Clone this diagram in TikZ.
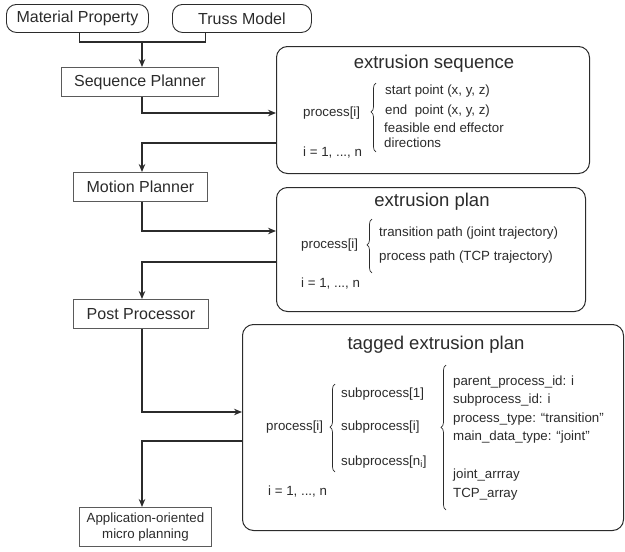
\documentclass[tikz,border=0pt]{standalone}
\usepackage{fontspec}
\setmainfont{Liberation Sans}
\usetikzlibrary{arrows.meta,decorations.pathreplacing,positioning}

\definecolor{inkgray}{HTML}{2B2B2B}
\definecolor{boxgray}{HTML}{5A5A5A}

\tikzset{
  inputbox/.style={draw=inkgray, line width=0.9pt, rounded corners=10pt, inner sep=0pt,
    anchor=north west, font=\fontsize{16}{18}\selectfont, text=inkgray},
  stagebox/.style={draw=boxgray, line width=0.9pt, inner sep=0pt, anchor=north west,
    font=\fontsize{16}{18}\selectfont, text=inkgray},
  databox/.style={draw=inkgray, line width=1pt, rounded corners=11pt, inner sep=0pt, anchor=north west},
  title/.style={font=\fontsize{18.5}{20}\selectfont, text=inkgray, inner sep=0pt},
  txt/.style={font=\fontsize{13.3}{15}\selectfont, text=inkgray, anchor=west, inner sep=0pt,
    text height=9.5pt, text depth=2.8pt},
  flow/.style={draw=inkgray, line width=1.6pt},
  arr/.style={flow, -{Stealth[length=8pt,width=6.5pt]}},
  curly/.style={draw=inkgray, line width=0.7pt, decorate, decoration={brace, amplitude=5pt, aspect=#1}},
}

\begin{document}
\begin{tikzpicture}[x=1pt,y=-1pt]
 \useasboundingbox (0,0) rectangle (625,552);

 % inputs and planners
 \node[inputbox, minimum width=142pt, minimum height=28pt] (matprop) at (6,4) {Material Property};
 \node[inputbox, minimum width=139pt, minimum height=28pt] (truss) at (172,4) {Truss Model};
 \node[stagebox, minimum width=157pt, minimum height=29pt] (seq) at (61,67) {Sequence Planner};
 \node[stagebox, minimum width=134pt, minimum height=29pt] (motion) at (73,172) {Motion Planner};
 \node[stagebox, minimum width=135pt, minimum height=29pt] (post) at (73,299) {Post Processor};
 \node[stagebox, minimum width=132pt, minimum height=39pt, align=center,
   font=\fontsize{13.3}{15.5}\selectfont] (app) at (79,507) {Application-oriented\\micro planning};

 % data boxes
 \node[databox, minimum width=313pt, minimum height=127pt] (exseq) at (276,46) {};
 \node[databox, minimum width=309pt, minimum height=124pt] (explan) at (276,187) {};
 \node[databox, minimum width=381pt, minimum height=206pt] (tagged) at (242,324) {};

 % extrusion sequence
 \node[title] (t1) at (434,64) {extrusion sequence};
 \node[txt] (p1) at (303,113) {process[i]};
 \node[txt] (n1) at (303,153) {i = 1, ..., n};
 \draw[curly=0.58] (376,152) -- (376,83);
 \node[txt] (s1) at (385,91) {start point (x, y, z)};
 \node[txt] (e1) at (385,111) {end\ \ point (x, y, z)};
 \node[txt] (f1) at (384,129) {feasible end effector};
 \node[txt] (d1) at (384,144) {directions};

 % extrusion plan
 \node[title] (t2) at (432,202) {extrusion plan};
 \node[txt] (p2) at (301,245) {process[i]};
 \node[txt] (n2) at (301,284) {i = 1, ..., n};
 \draw[curly=0.52] (372,273) -- (372,219);
 \node[txt] (tp2) at (379,233) {transition path (joint trajectory)};
 \node[txt] (pp2) at (379,257) {process path (TCP trajectory)};

 % tagged extrusion plan
 \node[title] (t3) at (436,345) {tagged extrusion plan};
 \node[txt] (p3) at (266,427) {process[i]};
 \node[txt] (n3) at (268,492) {i = 1, ..., n};
 \draw[curly=0.51] (335,472) -- (335,384);
 \node[txt] (sp1) at (341,394) {subprocess[1]};
 \node[txt] (spi) at (341,427) {subprocess[i]};
 \node[txt] (spn) at (341,462) {subprocess[n\textsubscript{i}]};
 \draw[curly=0.57] (446,510) -- (446,365);
 \node[txt] (a1) at (453,382) {parent\_process\_id: i};
 \node[txt] (a2) at (453,400) {subprocess\_id: i};
 \node[txt] (a3) at (453,419) {process\_type: “transition”};
 \node[txt] (a4) at (453,437) {main\_data\_type: “joint”};
 \node[txt] (a5) at (453,475) {joint\_arrray};
 \node[txt] (a6) at (453,494) {TCP\_array};

 % connectors
 \coordinate (j1) at (142,42);
 \coordinate (o1) at (276,143);
 \coordinate (i2) at (276,231);
 \coordinate (o2) at (276,262);
 \coordinate (i3) at (242,412);
 \coordinate (o3) at (242,441);

 \draw[flow] ([xshift=2pt]matprop.south) |- (j1) -| ([xshift=-36.5pt]truss.south);
 \draw[arr] (j1) -- (j1 |- seq.north);
 \draw[arr] (j1 |- seq.south) |- (exseq.west |- p1.center);
 \draw[arr] (o1) -| (motion.north -| j1);
 \draw[arr] (j1 |- motion.south) |- (i2);
 \draw[arr] (o2) -| (post.north -| j1);
 \draw[arr] (j1 |- post.south) |- (i3);
 \draw[arr] (o3) -| (app.north -| j1);
\end{tikzpicture}
\end{document}
